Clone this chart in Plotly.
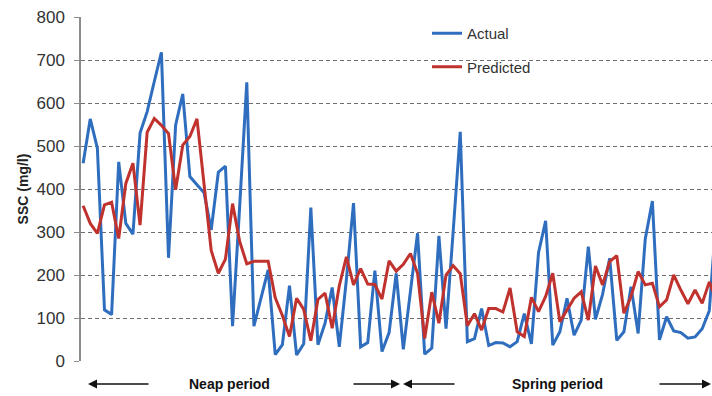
import plotly.graph_objects as go

# Sample index (time step)
samples = list(range(90))

actual = [460, 563, 495, 119, 108, 463, 320, 295, 530, 580,
          650, 718, 240, 549, 621, 429, 410, 391, 305, 439,
          453, 81, 360, 648, 81, 145, 212, 15, 38, 175,
          14, 40, 357, 38, 88, 171, 33, 190, 367, 33,
          43, 210, 22, 66, 204, 27, 165, 297, 16, 30,
          291, 75, 300, 533, 45, 52, 122, 36, 43, 42,
          33, 45, 110, 40, 252, 326, 37, 68, 146, 60,
          95, 266, 97, 155, 239, 48, 68, 173, 64, 284,
          372, 49, 103, 70, 66, 53, 56, 75, 117, 340]

predicted = [361, 320, 297, 363, 369, 285, 413, 460, 316, 532,
             564, 548, 529, 398, 502, 522, 563, 410, 257, 204,
             237, 366, 278, 226, 232, 232, 232, 147, 106, 57,
             146, 120, 47, 143, 158, 76, 175, 242, 177, 215,
             179, 178, 144, 233, 209, 225, 250, 204, 52, 160,
             88, 200, 222, 203, 82, 110, 72, 122, 122, 114,
             170, 68, 57, 148, 115, 150, 204, 91, 119, 146,
             161, 95, 221, 177, 231, 245, 111, 150, 208, 177,
             181, 126, 142, 200, 165, 133, 165, 134, 184, 140]

y_ticks = [0, 100, 200, 300, 400, 500, 600, 700, 800]

BLUE = "#2f6ebf"
RED = "#c0322e"

fig = go.Figure()
fig.add_trace(go.Scatter(x=samples, y=actual, mode="lines", name="Actual",
                         line=dict(color=BLUE, width=3), legendgroup="a"))
fig.add_trace(go.Scatter(x=samples, y=predicted, mode="lines", name="Predicted",
                         line=dict(color=RED, width=3), legendgroup="p"))

L, R, T, B = 81, 0, 17, 35
W, H = 712, 396
pw = W - L - R
ph = H - T - B

def px(x):
    return (x - L) / pw

def py(y):
    return (H - B - y) / ph

fig.update_layout(
    width=W, height=H,
    margin=dict(l=L, r=R, t=T, b=B),
    paper_bgcolor="white", plot_bgcolor="white",
    font=dict(family="Liberation Sans, Arial, sans-serif", color="#333333"),
    showlegend=True,
    legend=dict(x=px(427), y=py(17), xanchor="left", yanchor="top",
                font=dict(size=15, color="#333333"),
                bgcolor="rgba(0,0,0,0)", traceorder="grouped",
                tracegroupgap=11, itemwidth=30),
    xaxis=dict(range=[-0.3, 88.38], showgrid=False, showline=False,
               zeroline=False, showticklabels=False, ticks=""),
    yaxis=dict(range=[0, 800], tickvals=y_ticks, showgrid=True,
               gridcolor="#6e6e6e", griddash="4px,3px", gridwidth=1,
               zeroline=False, showline=True, linecolor="#8c8c8c", linewidth=1.5,
               ticks="outside", ticklen=5, tickcolor="#8c8c8c",
               ticklabelstandoff=6,
               tickfont=dict(size=17, color="#333333"),
               title=dict(text="<b>SSC (mg/l)</b>", standoff=5,
                          font=dict(size=14, color="#222222"))),
)

ya = py(384)
annots = [
    dict(x=px(229), y=ya, text="<b>Neap period</b>", showarrow=False,
         xanchor="center", yanchor="middle",
         font=dict(size=14, color="#111111")),
    dict(x=px(557), y=ya, text="<b>Spring period</b>", showarrow=False,
         xanchor="center", yanchor="middle",
         font=dict(size=14, color="#111111")),
]
arrows = [(88, 62), (400, -48), (403, 53), (711, -53)]
for hx, off in arrows:
    annots.append(dict(x=px(hx), y=ya, text="",
                       showarrow=True, ax=off, ay=0, arrowhead=2, arrowsize=1.2,
                       arrowwidth=1.5, arrowcolor="#111111", standoff=0, startstandoff=0))
for a in annots:
    a["xref"] = "paper"
    a["yref"] = "paper"
fig.update_layout(annotations=annots)

fig.write_html("out.html", config={"displayModeBar": False},
               post_script="document.body.style.margin='0';")
